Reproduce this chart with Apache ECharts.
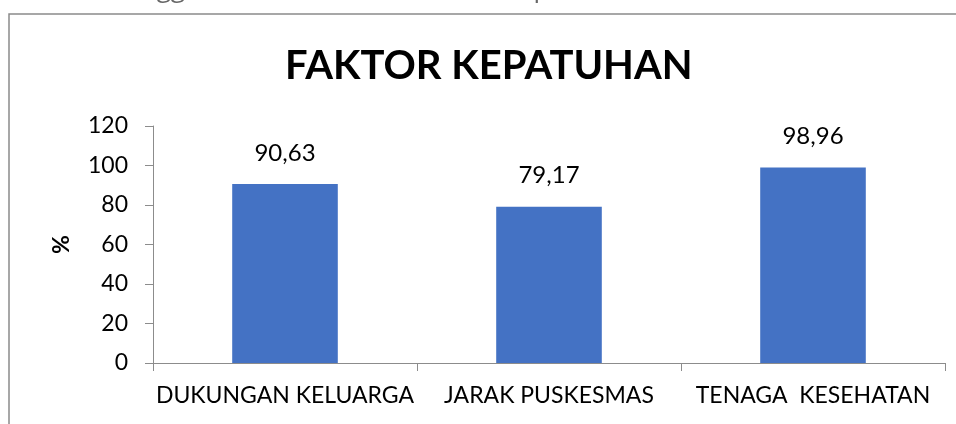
<!DOCTYPE html>
<html>
<head>
<meta charset="utf-8">
<script src="https://cdn.jsdelivr.net/npm/echarts@6/dist/echarts.min.js"></script>
<style>
  html, body { margin: 0; padding: 0; background: #fff; }
  #chart { width: 956px; height: 424px; }
</style>
</head>
<body>
<div id="chart"></div>
<script>
var categories = ['DUKUNGAN KELUARGA', 'JARAK PUSKESMAS', 'TENAGA  KESEHATAN'];
var values = [90.63, 79.17, 98.96];
var yTicks = { min: 0, max: 120, interval: 20 };

var chart = echarts.init(document.getElementById('chart'));
var font = 'Lato, "Noto Sans", sans-serif';

var option = {
    backgroundColor: '#fff',
    animation: false,
    textStyle: { fontFamily: font },
    title: {
        text: 'FAKTOR KEPATUHAN',
        left: 285,
        top: 46,
        padding: 0,
        textStyle: { fontFamily: font, fontSize: 40, fontWeight: 'bold', color: '#000' }
    },
    graphic: [
        {
            type: 'rect',
            shape: { x: 9, y: 14, width: 1000, height: 500 },
            style: { fill: 'none', stroke: '#8a8a8a', lineWidth: 1.5 },
            silent: true
        },
        {
            type: 'text',
            left: 70,
            top: -23,
            style: { text: 'c.  Menggunakan sarana kesehatan dapat', fill: '#666', font: '26px "Open Sans", sans-serif' },
            silent: true
        }
    ],
    grid: { left: 153, right: 11, top: 126, bottom: 61 },
    xAxis: {
        type: 'category',
        data: categories,
        axisLine: { show: true, lineStyle: { color: '#8c8c8c', width: 1 } },
        axisTick: { show: true, length: 8, lineStyle: { color: '#8c8c8c' } },
        axisLabel: { fontFamily: font, fontSize: 23, color: '#000', margin: 21, interval: 0 }
    },
    yAxis: {
        type: 'value',
        min: yTicks.min,
        max: yTicks.max,
        interval: yTicks.interval,
        name: '%',
        nameLocation: 'middle',
        nameRotate: 90,
        nameGap: 80,
        nameTextStyle: { fontFamily: font, fontSize: 23, fontWeight: 'bold', color: '#000' },
        axisLine: { show: true, lineStyle: { color: '#8c8c8c', width: 1 } },
        axisTick: { show: true, length: 8, lineStyle: { color: '#8c8c8c' } },
        splitLine: { show: false },
        axisLabel: { fontFamily: font, fontSize: 23, color: '#000', margin: 25 }
    },
    series: [
        {
            type: 'bar',
            data: values,
            barWidth: '40%',
            itemStyle: { color: '#4472C4' },
            label: {
                show: true,
                position: 'top',
                distance: 19,
                fontFamily: font,
                fontSize: 24,
                color: '#000',
                formatter: function (p) { return p.value.toFixed(2).replace('.', ','); }
            }
        }
    ]
};

option && chart.setOption(option);
</script>
</body>
</html>
